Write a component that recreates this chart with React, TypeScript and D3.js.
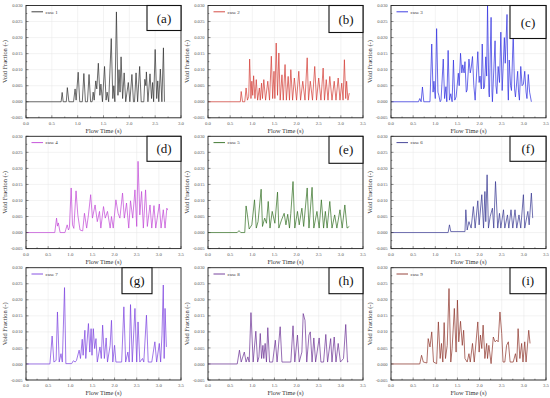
import React from "react";
import * as d3 from "d3";

// Void fraction values are given in units of 1e-3
const case1: [number, number][] = [[0,0],[0.68,0],[0.70,2.9],[0.72,0],[0.78,0],[0.80,4.4],[0.83,0],[0.92,0],[0.95,4.0],[0.97,0.5],[1.01,9.2],[1.04,0],[1.09,0],[1.12,8.8],[1.15,0],[1.19,0],[1.22,8.5],[1.25,0],[1.28,0],[1.30,3.0],[1.32,0.5],[1.35,6.5],[1.37,4],[1.40,12],[1.43,2],[1.45,5.5],[1.48,0],[1.52,11],[1.55,0.5],[1.57,3],[1.60,0],[1.65,19.7],[1.68,1],[1.70,5],[1.72,0],[1.75,28],[1.78,2],[1.80,10],[1.82,3],[1.84,14],[1.87,1],[1.90,9],[1.93,0],[1.98,6],[2.01,0],[2.05,8.5],[2.08,0],[2.10,0],[2.13,9],[2.16,0],[2.20,11],[2.23,0],[2.28,0],[2.30,7],[2.32,5],[2.33,9.3],[2.36,0],[2.40,8.7],[2.43,1],[2.45,6],[2.47,0],[2.50,16.3],[2.53,1],[2.55,6.5],[2.57,0],[2.60,10.2],[2.63,0],[2.66,16.8],[2.68,0]];
const case2: [number, number][] = [[0,0],[0.73,0],[0.75,3.2],[0.78,0],[0.83,0],[0.86,4.3],[0.89,0.5],[0.92,1.7],[0.94,13.3],[0.97,1],[0.99,6.4],[1.01,2],[1.03,8.1],[1.06,1],[1.09,6.9],[1.12,0.5],[1.16,4.3],[1.18,0.5],[1.21,5.8],[1.23,1],[1.26,6.9],[1.30,0.5],[1.35,6.4],[1.39,0.5],[1.43,14.2],[1.46,1],[1.49,9.5],[1.51,1],[1.54,18.3],[1.57,2],[1.60,15.2],[1.63,0.5],[1.67,8.4],[1.70,0.5],[1.74,11.6],[1.77,0.5],[1.81,7.9],[1.84,0.5],[1.87,10],[1.91,0.5],[1.95,7.4],[2.00,0.5],[2.05,9.5],[2.09,0.5],[2.14,6.4],[2.19,0.5],[2.24,13.7],[2.27,0.5],[2.31,6.4],[2.36,0.5],[2.41,11],[2.45,0.5],[2.50,7.4],[2.55,0.5],[2.60,10.5],[2.63,0.5],[2.67,6.9],[2.71,0.5],[2.75,7.9],[2.80,0.5],[2.85,6.4],[2.89,0.5],[2.94,7.4],[2.98,0.5],[3.02,5.8],[3.05,0.5],[3.08,13.1],[3.11,1],[3.13,6.4],[3.16,0.5],[3.19,2.7]];
const case3: [number, number][] = [[0,0],[0.62,0],[0.65,1],[0.68,0],[0.71,4.6],[0.74,0],[0.88,0],[0.92,18],[0.95,3],[0.97,6.4],[1.00,1],[1.03,22.8],[1.06,3],[1.08,2],[1.11,0],[1.13,0.5],[1.18,13.3],[1.21,1],[1.24,4.7],[1.26,0],[1.29,16],[1.32,0.5],[1.35,2.5],[1.38,0],[1.41,13],[1.44,0.5],[1.47,1.5],[1.52,8.9],[1.54,5],[1.57,15.1],[1.60,9],[1.62,11.5],[1.65,9],[1.67,12.5],[1.70,3],[1.72,3.7],[1.76,13.3],[1.79,9],[1.81,10.5],[1.84,14.1],[1.87,5],[1.90,0.5],[1.96,15.6],[1.99,6],[2.01,8],[2.04,4],[2.06,18],[2.09,4],[2.11,4.5],[2.14,14],[2.16,8],[2.18,30],[2.21,3],[2.22,1.5],[2.26,26.3],[2.28,3],[2.29,0],[2.35,19],[2.37,5],[2.39,2.5],[2.42,11],[2.45,6],[2.48,21.7],[2.51,3.5],[2.56,20],[2.58,12],[2.62,27.2],[2.64,4],[2.65,0.5],[2.67,13],[2.70,5],[2.72,3.5],[2.76,21.2],[2.79,4],[2.81,1.5],[2.86,9.5],[2.88,3],[2.90,0.5],[2.93,11],[2.96,5],[2.99,5.5],[3.02,9.5],[3.05,3],[3.07,1],[3.10,8.5],[3.13,3],[3.15,1.5],[3.17,0]];
const case4: [number, number][] = [[0,0],[0.65,0],[0.69,4.5],[0.71,2],[0.73,3],[0.77,0],[0.88,0],[0.90,1],[0.93,2.4],[0.96,0.8],[0.98,1.5],[1.02,13.9],[1.05,2.4],[1.08,1.3],[1.13,13],[1.17,5.5],[1.22,0.8],[1.28,0.5],[1.32,6],[1.37,1.4],[1.41,5.5],[1.46,11.8],[1.50,4.5],[1.56,8.6],[1.61,3.4],[1.66,6.6],[1.69,1.4],[1.75,8.1],[1.79,4.5],[1.84,6.6],[1.90,1.4],[1.93,5],[1.97,1.4],[2.03,10.2],[2.08,6],[2.12,4.5],[2.18,12.3],[2.22,4.5],[2.27,9.2],[2.32,1.4],[2.36,9.9],[2.41,4.5],[2.46,13.3],[2.50,1.9],[2.53,22.2],[2.57,5.5],[2.61,12.8],[2.65,1.4],[2.70,13.3],[2.74,1.9],[2.80,8.6],[2.84,1.4],[2.89,8.4],[2.93,1.4],[3.01,8.9],[3.05,1.4],[3.10,7.1],[3.14,1.4],[3.18,7.6],[3.20,7]];
const case5: [number, number][] = [[0,0],[0.66,0],[0.70,0.6],[0.74,0],[0.83,0],[0.86,8.3],[0.89,5.5],[0.93,1.1],[0.99,2.4],[1.05,10.2],[1.09,1.4],[1.13,3.4],[1.20,13.5],[1.23,1.9],[1.28,4.5],[1.32,2.9],[1.36,9.7],[1.40,1.4],[1.45,6.6],[1.51,2.9],[1.57,12.6],[1.60,1.4],[1.66,3.9],[1.72,6],[1.76,2.4],[1.80,5.7],[1.84,1.4],[1.87,6],[1.92,15.9],[1.96,1.4],[2.02,6.6],[2.06,2.4],[2.12,7.6],[2.16,1.9],[2.24,13.9],[2.28,1.4],[2.35,14.1],[2.39,1.4],[2.46,6.6],[2.51,1.4],[2.56,10.2],[2.61,1.4],[2.65,6.6],[2.69,1.4],[2.75,9.7],[2.80,1.4],[2.86,5.5],[2.91,1.4],[2.98,7.1],[3.03,1.4],[3.09,8.6],[3.14,1.4],[3.19,1.9]];
const case6: [number, number][] = [[0,0],[1.29,0],[1.32,2.4],[1.35,0.3],[1.67,0.3],[1.69,7.1],[1.72,0.8],[1.76,3.4],[1.81,1.4],[1.86,8.1],[1.90,1.4],[1.96,9.9],[1.99,2.4],[2.05,11.8],[2.09,1.4],[2.12,12.8],[2.14,3.4],[2.17,18],[2.20,1.4],[2.24,5],[2.29,7.6],[2.32,1.4],[2.36,15.9],[2.41,1.4],[2.45,6],[2.48,1.4],[2.54,7.1],[2.57,1.4],[2.63,5.5],[2.66,1.4],[2.71,7.1],[2.75,1.4],[2.80,7.1],[2.84,1.4],[2.89,5.5],[2.93,1.4],[2.99,11.8],[3.02,1.4],[3.09,6.6],[3.12,2.4],[3.17,12.3],[3.20,4.5]];
const case7: [number, number][] = [[0,0],[0.54,0],[0.59,8.7],[0.63,0.6],[0.68,1.1],[0.71,16.2],[0.75,0.6],[0.79,3.2],[0.82,0.6],[0.87,23.8],[0.90,0.1],[1.03,0.1],[1.07,1],[1.11,0.6],[1.14,1.1],[1.20,4.3],[1.23,1.7],[1.27,7.7],[1.29,2.7],[1.33,10.5],[1.35,1.7],[1.41,12.6],[1.44,3.7],[1.47,11],[1.49,2.7],[1.52,11],[1.55,4.8],[1.58,7.9],[1.61,0.6],[1.67,5.3],[1.70,1.7],[1.73,12.1],[1.77,1.7],[1.81,8.1],[1.84,0.6],[1.90,5.8],[1.93,13.6],[1.96,0.6],[2.00,5.8],[2.03,0.6],[2.16,0.6],[2.21,17.8],[2.25,0.6],[2.30,3.7],[2.33,0.6],[2.36,18.5],[2.40,0.6],[2.46,17.3],[2.50,0.6],[2.53,13.1],[2.57,0.6],[2.63,1.7],[2.66,0.6],[2.72,15.2],[2.76,0.6],[2.84,0.6],[2.91,6.9],[2.95,0.6],[3.01,6.4],[3.04,0.6],[3.07,9],[3.10,24.6],[3.12,1.7],[3.14,17.3],[3.17,5.3]];
const case8: [number, number][] = [[0,0],[0.66,0],[0.71,4.3],[0.75,0.6],[0.82,3.7],[0.86,0.6],[0.90,2.2],[0.93,0.6],[0.97,16],[1.02,0.6],[1.08,10.2],[1.12,0.6],[1.15,2.2],[1.18,9.5],[1.21,1.7],[1.24,5.8],[1.26,1.7],[1.29,6.4],[1.32,0.6],[1.35,11.3],[1.39,0.6],[1.46,0.6],[1.52,7.4],[1.56,0.6],[1.63,11.6],[1.67,0.6],[1.87,0.6],[1.92,11.9],[1.96,0.6],[2.02,9],[2.06,0.6],[2.12,3.7],[2.15,15.7],[2.19,13.6],[2.23,0.6],[2.28,9],[2.31,10],[2.35,0.6],[2.39,8.1],[2.43,0.6],[2.51,8.1],[2.55,0.6],[2.61,0.6],[2.66,9.2],[2.70,0.6],[2.77,7.9],[2.80,0.6],[2.85,8.4],[2.89,0.6],[2.94,6.4],[2.99,0.6],[3.06,1.7],[3.11,12.3],[3.15,0.6],[3.17,0.8]];
const case9: [number, number][] = [[0,0],[0.65,0],[0.69,2.7],[0.73,0.6],[0.81,0.3],[0.84,7.9],[0.88,5.3],[0.92,10],[0.96,0.6],[1.03,0.1],[1.07,13.1],[1.11,1.7],[1.14,6.4],[1.17,0.6],[1.20,12.9],[1.23,1.7],[1.27,5.8],[1.31,23.5],[1.35,0.6],[1.38,4.8],[1.43,17.3],[1.47,3.7],[1.50,19.9],[1.53,6.9],[1.57,13.3],[1.61,5.8],[1.64,10.5],[1.67,1.7],[1.72,0.6],[1.76,3.2],[1.79,0.6],[1.84,6.4],[1.88,0.6],[1.93,8.4],[1.96,13.1],[1.99,3.7],[2.02,9],[2.05,4.8],[2.08,12.1],[2.12,1.7],[2.16,6.4],[2.18,1.7],[2.21,5.8],[2.26,0.1],[2.31,8.4],[2.35,6.9],[2.39,7.4],[2.42,6.9],[2.46,16.2],[2.50,9.5],[2.53,0.6],[2.57,0.6],[2.61,5.8],[2.65,6.9],[2.69,0.6],[2.76,0.6],[2.81,3.2],[2.84,0.6],[2.87,11],[2.91,1.7],[2.95,6.4],[2.98,0.6],[3.02,6.9],[3.05,0.6],[3.11,10.5],[3.14,6.4]];

const caseNames = ["case 1", "case 2", "case 3", "case 4", "case 5", "case 6", "case 7", "case 8", "case 9"];
const panelLabels = ["(a)", "(b)", "(c)", "(d)", "(e)", "(f)", "(g)", "(h)", "(i)"];
const seriesList = [case1, case2, case3, case4, case5, case6, case7, case8, case9];
const xMaxList = [3.0, 3.5, 3.5, 3.5, 3.5, 3.5, 3.5, 3.5, 3.5];
const yTicks = [-5, 0, 5, 10, 15, 20, 25, 30];

// layout / style (not data)
const colors = ["#2e2e2e", "#d23a32", "#2b2be0", "#c043d6", "#2f6d1f", "#34348f", "#7a3fe0", "#6a2f93", "#8c3228"];
const colX = [26, 208, 391];
const rowY = [5.5, 136.3, 267.7];
const PW = 155;
const PH = 112.3;
const boxes = [
  { x: 121, y: 0, w: 34, h: 25 },
  { x: 121, y: 0, w: 34, h: 27 },
  { x: 119, y: 0, w: 36, h: 33 },
  { x: 121, y: 0, w: 34, h: 25 },
  { x: 121, y: 0, w: 34, h: 27 },
  { x: 119, y: 0, w: 36, h: 25 },
  { x: 96, y: 0, w: 30, h: 26 },
  { x: 121, y: 0, w: 34, h: 26 },
  { x: 119, y: 0, w: 36, h: 26 },
];
const FONT = "'Liberation Serif', 'Times New Roman', serif";

function Panel({ i }: { i: number }) {
  const col = i % 3;
  const row = Math.floor(i / 3);
  const x0 = colX[col];
  const y0 = rowY[row];
  const xMax = xMaxList[i];
  const x = d3.scaleLinear().domain([0, xMax]).range([0, PW]);
  const y = d3.scaleLinear().domain([-5, 30]).range([PH, 0]);
  const xTicks = d3.range(0, xMax + 0.001, 0.5);
  const xMinor = d3.range(0.25, xMax, 0.5);
  const yMinor = d3.range(-2.5, 30, 5);
  const line = d3.line<[number, number]>().x((d) => x(d[0])).y((d) => y(d[1]));
  const b = boxes[i];
  const fmtY = (v: number) => (v / 1000).toFixed(3);
  return (
    <g transform={`translate(${x0},${y0})`}>
      {xTicks.map((t) => (
        <line key={"gx" + t} x1={x(t)} x2={x(t)} y1={0} y2={PH} stroke="#e6e6e6" strokeWidth={0.5} />
      ))}
      {yTicks.map((t) => (
        <line key={"gy" + t} x1={0} x2={PW} y1={y(t)} y2={y(t)} stroke="#e6e6e6" strokeWidth={0.5} />
      ))}
      <path d={line(seriesList[i]) || ""} fill="none" stroke={colors[i]} strokeWidth={0.7} strokeLinejoin="round" />
      <rect x={0} y={0} width={PW} height={PH} fill="none" stroke="#222" strokeWidth={0.9} />
      {xTicks.map((t) => (
        <g key={"tx" + t}>
          <line x1={x(t)} x2={x(t)} y1={PH} y2={PH - 2.5} stroke="#222" strokeWidth={0.5} />
          <text x={x(t)} y={PH + 7.5} fontSize={4.8} fill="#555" textAnchor="middle" fontFamily={FONT}>
            {t.toFixed(1)}
          </text>
        </g>
      ))}
      {xMinor.map((t) => (
        <line key={"mx" + t} x1={x(t)} x2={x(t)} y1={PH} y2={PH - 1.3} stroke="#222" strokeWidth={0.5} />
      ))}
      {yTicks.map((t) => (
        <g key={"ty" + t}>
          <line x1={0} x2={2.5} y1={y(t)} y2={y(t)} stroke="#222" strokeWidth={0.5} />
          <text x={-3.5} y={y(t) + 1.6} fontSize={4.6} fill="#555" textAnchor="end" fontFamily={FONT}>
            {fmtY(t)}
          </text>
        </g>
      ))}
      {yMinor.map((t) => (
        <line key={"my" + t} x1={0} x2={1.3} y1={y(t)} y2={y(t)} stroke="#222" strokeWidth={0.5} />
      ))}
      <text x={PW / 2} y={PH + 15.5} fontSize={6.4} fill="#333" textAnchor="middle" fontFamily={FONT}>
        Flow Time (s)
      </text>
      <text
        transform={`translate(${-19},${PH / 2}) rotate(-90)`}
        fontSize={6.4}
        fill="#333"
        textAnchor="middle"
        fontFamily={FONT}
      >
        Void Fraction (-)
      </text>
      <line x1={5.5} x2={17} y1={6.3} y2={6.3} stroke={colors[i]} strokeWidth={0.9} />
      <text x={19.5} y={8} fontSize={5} fill="#333" fontFamily={FONT}>
        {caseNames[i]}
      </text>
      <rect x={b.x} y={b.y} width={b.w} height={b.h} fill="#fff" stroke="#111" strokeWidth={1.1} />
      <text x={b.x + b.w / 2} y={b.y + b.h / 2 + 4.5} fontSize={13} fill="#111" textAnchor="middle" fontFamily={FONT}>
        {panelLabels[i]}
      </text>
    </g>
  );
}

export default function App() {
  return (
    <svg
      width={550}
      height={398}
      viewBox="0 0 550 398"
      style={{ position: "absolute", left: 0, top: 0, background: "#fff" }}
    >
      <rect width={550} height={398} fill="#fff" />
      {seriesList.map((_, i) => (
        <Panel key={i} i={i} />
      ))}
    </svg>
  );
}
